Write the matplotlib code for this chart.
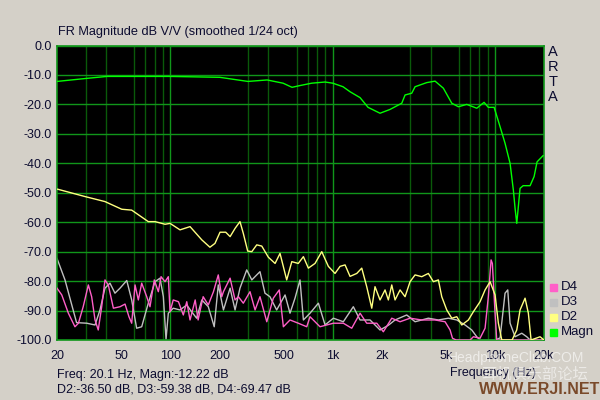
import matplotlib
matplotlib.use('Agg')
import matplotlib.pyplot as plt
import numpy as np

# ---- data (Hz, dB) ----
magn_f = [20, 30, 40.6, 99, 201, 300, 394, 494, 561, 628, 741, 896, 1000, 1156,
          1277, 1472, 1649, 1954, 2254, 2660, 2787, 3064, 3212, 3790, 4266,
          4798, 5406, 5936, 6686, 7708, 8546, 9082, 9858, 10728, 11510, 12360,
          12950, 13270, 13590, 13900, 14240, 14870, 16420, 17380, 18130, 19740]
magn_db = [-12.2, -11.2, -10.5, -10.5, -10.8, -12.2, -11.7, -12.8, -14.2, -13.6,
           -12.8, -12.4, -12.8, -14.0, -15.7, -17.7, -21.0, -23.0, -21.7, -19.6,
           -16.8, -16.2, -14.0, -12.6, -12.1, -14.5, -19.6, -20.8, -20.0, -21.3,
           -19.3, -21.0, -21.0, -27.6, -33.2, -40.0, -49.1, -55.3, -60.4, -54.7,
           -48.5, -47.6, -47.6, -44.5, -39.5, -37.4]

d2_f = [20.2, 29.8, 39.5, 50.1, 57.7, 73, 80.3, 92.6, 99.4, 114.5, 132, 156, 175,
        188, 202, 219, 233, 250, 268, 281, 299, 317, 340, 365, 401, 441, 473,
        520, 559, 613, 659, 707, 777, 855, 939, 1032, 1108, 1190, 1277, 1405,
        1508, 1618, 1738, 1820, 1954, 2098, 2199, 2308, 2418, 2596, 2787, 2992,
        3212, 3532, 3878, 4164, 4470, 4690, 5035, 5406, 5803, 6230, 6842, 7345,
        8074, 8670, 9308, 9990, 10470, 10990, 12720, 13590, 14240, 15290, 16020,
        16650, 18920, 20000]
d2_db = [-48.8, -51.3, -53.0, -55.6, -55.9, -59.8, -59.8, -60.7, -60.4, -62.6,
         -61.5, -66.0, -68.5, -67.2, -63.4, -63.4, -64.9, -62.1, -59.8, -63.8,
         -69.8, -70.0, -67.7, -68.1, -71.9, -74.0, -70.6, -79.6, -73.4, -74.0,
         -71.7, -75.6, -74.0, -70.0, -75.0, -77.4, -75.0, -74.5, -78.4, -77.4,
         -75.6, -81.9, -89.2, -81.9, -86.4, -83.0, -86.4, -81.3, -86.4, -83.0,
         -85.3, -80.2, -77.9, -78.5, -77.4, -80.2, -79.6, -85.3, -89.8, -92.6,
         -92.1, -94.9, -93.2, -90.4, -87.0, -83.0, -80.2, -84.7, -94.3, -100,
         -100, -96.6, -89.8, -85.8, -90.9, -100, -98.9, -100]

d3_f = [20, 22.4, 26.4, 30.5, 34.3, 36.8, 39.5, 42.4, 45.5, 48.9, 53.8, 57.7,
        61.9, 66.5, 73, 80.3, 86.2, 90.4, 93.9, 97, 104, 114.5, 126, 135, 145,
        156, 171, 186, 197, 212, 233, 250, 268, 295, 317, 340, 356, 382, 410,
        451, 508, 545, 585, 628, 659, 724, 815, 896, 1008, 1161, 1338, 1472,
        1696, 1954, 2199, 2418, 2854, 3212, 3878, 4470, 5150, 5803, 6528, 7178,
        7708, 8074, 9990, 10728, 11510, 11960, 12360, 13270, 14590, 15660,
        16420, 20000]
d3_db = [-72.3, -79.6, -94.1, -94.3, -94.9, -89.8, -82.4, -80.7, -84.1, -82.4,
         -79.8, -86.4, -96.0, -95.5, -87.5, -80.2, -79.0, -85.3, -99.8, -90.9,
         -89.2, -89.8, -88.1, -90.4, -92.6, -86.4, -88.7, -95.5, -81.3, -89.8,
         -82.4, -89.8, -82.4, -76.2, -79.6, -77.9, -76.8, -84.1, -85.3, -89.8,
         -84.7, -90.9, -85.8, -79.6, -93.2, -90.9, -87.5, -94.9, -92.6, -93.8,
         -88.7, -93.2, -93.2, -96.6, -95.0, -93.2, -91.5, -93.8, -92.6, -93.2,
         -92.6, -93.2, -94.9, -96.6, -98.9, -100, -100, -99.3, -84.1, -83.0,
         -94.3, -98.9, -97.7, -98.9, -100, -100]

d4_f = [20, 21.4, 23.5, 25.8, 27.1, 29, 31.2, 32.7, 34.3, 35.9, 37.7, 39.5, 41.4,
        44.5, 48.9, 52.5, 55.5, 57.7, 60.5, 63.4, 66.5, 71.4, 74.8, 79.5, 84.2,
        87.5, 92.6, 97, 99.4, 104, 112, 120, 126, 132, 142, 148, 159, 171, 184,
        197, 207, 212, 233, 250, 262, 281, 309, 332, 356, 392, 430, 468, 496,
        545, 613, 691, 724, 834, 1008, 1161, 1308, 1472, 1618, 1866, 2048, 2308,
        2596, 2992, 3532, 4266, 4916, 5278, 5460, 5750, 7012, 7345, 8074, 8670,
        9082, 9440, 9616, 9990, 10230, 20000]
d4_db = [-82.4, -84.7, -90.9, -95.5, -94.3, -88.7, -81.3, -85.3, -93.2, -96.6,
         -88.7, -79.6, -81.3, -89.2, -88.7, -87.8, -92.1, -94.3, -81.3, -86.4,
         -80.7, -85.3, -88.7, -79.6, -83.6, -78.5, -80.2, -78.5, -90.4, -86.4,
         -87.0, -91.5, -87.0, -93.2, -86.4, -93.2, -85.3, -88.1, -83.6, -77.9,
         -85.3, -83.6, -79.0, -86.4, -85.3, -87.5, -83.6, -89.8, -85.3, -93.8,
         -85.8, -83.0, -95.5, -93.2, -94.3, -95.5, -92.1, -95.5, -94.3, -94.3,
         -96.0, -90.9, -94.3, -94.3, -97.2, -92.6, -93.8, -92.6, -93.2, -93.2,
         -93.8, -96.6, -99.4, -100, -100, -98.9, -99.4, -96.0, -85.3, -72.8,
         -74.0, -90.9, -100, -100]

xtick_f = [20, 50, 100, 200, 500, 1000, 2000, 5000, 10000, 20000]
xtick_lab = ['20', '50', '100', '200', '500', '1k', '2k', '5k', '10k', '20k']
grid_f = [20, 30, 40, 50, 60, 70, 80, 90, 100, 200, 300, 400, 500, 600, 700,
          800, 900, 1000, 2000, 3000, 4000, 5000, 6000, 7000, 8000, 9000,
          10000, 20000]
decades = [100, 1000, 10000]

legend_names = ['D4', 'D3', 'D2', 'Magn']
legend_cols = ['#ff5fc8', '#c0c0c0', '#ffff80', '#00ff00']

bg = '#d4d0c8'
txt = '#0c0c30'
plt.rcParams['font.family'] = ['Liberation Sans', 'Noto Sans CJK SC', 'DejaVu Sans']

fig = plt.figure(figsize=(6, 4), dpi=100, facecolor=bg)
ax = fig.add_axes([57/600, 60/400, 487/600, 294.5/400])
ax.set_facecolor('black')

ax.set_xscale('log')
ax.set_xlim(20, 20000)
ax.set_ylim(-100, 0)

# grid
ax.set_xticks(grid_f, minor=True)
ax.grid(which='minor', axis='x', color='#0a5a0a', lw=1.0)
for f in decades:
    ax.axvline(f, color='#10961a', lw=1.0, zorder=0.5)
ax.set_yticks(np.arange(-100, 1, 10))
ax.grid(which='major', axis='y', color='#10961a', lw=1.0)
ax.set_yticklabels(['%.1f' % v for v in np.arange(-100, 1, 10)])
ax.set_xticks(xtick_f)
ax.set_xticklabels(xtick_lab)
ax.tick_params(which='both', length=0, labelsize=9, colors=txt, pad=7)
ax.tick_params(axis='y', pad=4)
for s in ax.spines.values():
    s.set_color('#10961a')
    s.set_linewidth(1.2)

ax.plot(d3_f, d3_db, color=legend_cols[1], lw=1.0, zorder=2)
ax.plot(d4_f, d4_db, color=legend_cols[0], lw=1.0, zorder=3)
ax.plot(d2_f, d2_db, color=legend_cols[2], lw=1.0, zorder=4)
ax.plot(magn_f, magn_db, color=legend_cols[3], lw=1.0, zorder=5)

fig.text(58/600, 1 - 35/400, 'FR Magnitude dB V/V (smoothed 1/24 oct)',
         fontsize=9.2, color=txt, va='baseline')
for i, ch in enumerate('ARTA'):
    fig.text(553/600, 1 - (52 + 15*i)/400, ch, fontsize=10.5, color=txt,
             ha='center', va='center')

for i, (name, col) in enumerate(zip(legend_names, legend_cols)):
    y = 1 - (287 + 15*i)/400
    fig.patches.append(plt.Rectangle((550/600, y - 3.5/400), 7/600, 7/400,
                                     transform=fig.transFigure, color=col))
    fig.text(561/600, y, name, fontsize=9.5, color=txt, va='center')

fig.text(57/600, 1 - 378/400, 'Freq: 20.1 Hz, Magn:-12.22 dB',
         fontsize=9, color=txt, va='baseline')
fig.text(57/600, 1 - 393/400, 'D2:-36.50 dB, D3:-59.38 dB, D4:-69.47 dB',
         fontsize=9, color=txt, va='baseline')
fig.text(493/600, 1 - 373/400, 'Frequency (Hz)', fontsize=9, color=txt,
         ha='center', va='center')

# watermark
fig.text(516/600, 1 - 358/400, 'HeadphoneClub.COM', fontsize=10, color='white',
         alpha=0.6, ha='center', va='center')
fig.text(535/600, 1 - 375/400, '耳机俱乐部论坛', fontsize=11, color='white',
         alpha=0.55, ha='center', va='center')
fig.text(540/600, 1 - 390/400, 'WWW.ERJI.NET', fontsize=11.5, fontweight='bold',
         color='#7a4a2a', ha='center', va='center')

fig.savefig('out.png', dpi=100, facecolor=bg)
